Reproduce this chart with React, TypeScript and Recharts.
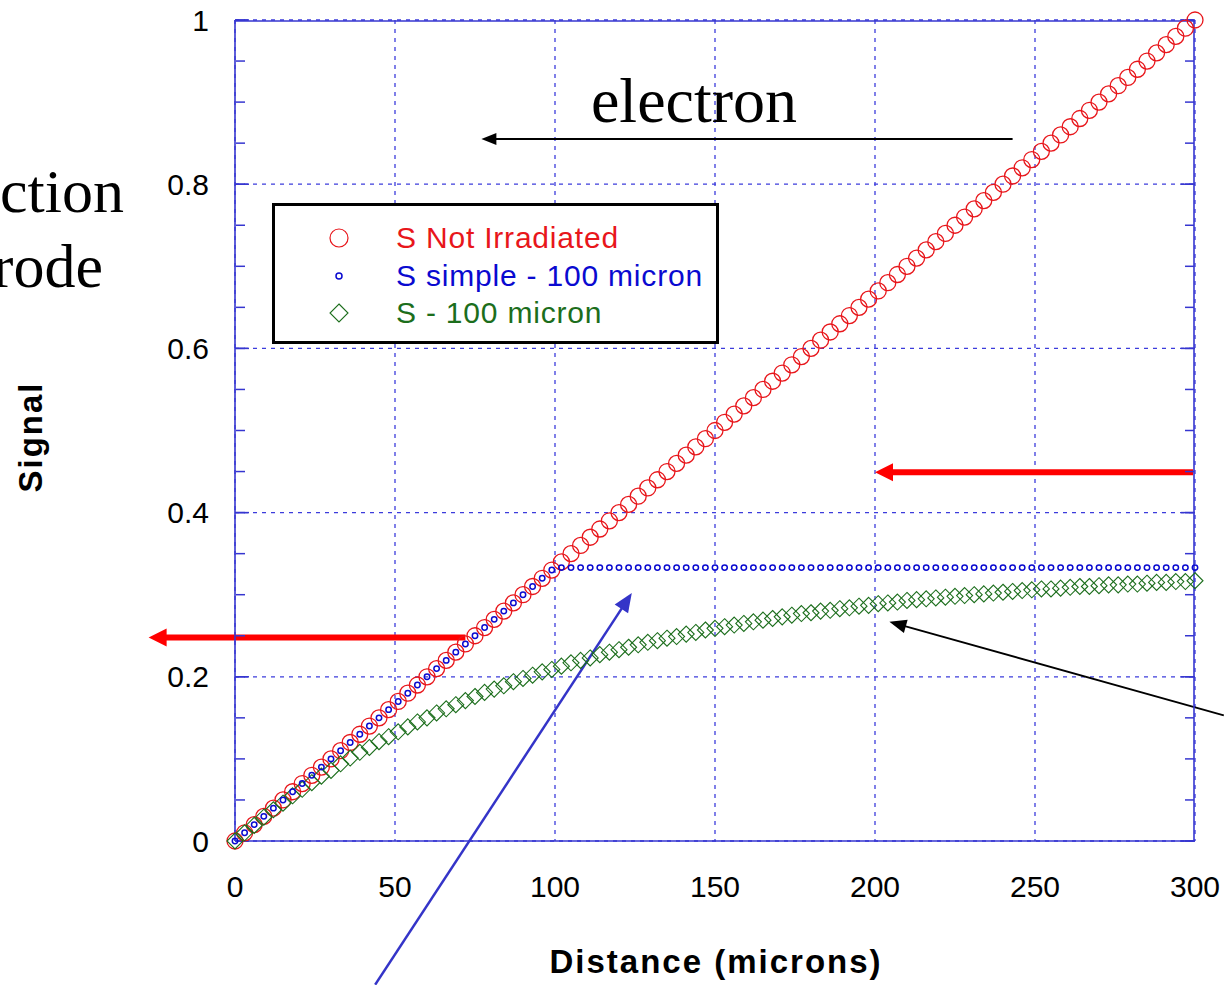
import React from 'react';
import {
  ScatterChart,
  Scatter,
  XAxis,
  YAxis,
  CartesianGrid,
  ReferenceLine,
  Legend,
} from 'recharts';

// distance in microns, one point every 3 microns
const distance = [
  0, 3, 6, 9, 12, 15, 18, 21, 24, 27,
  30, 33, 36, 39, 42, 45, 48, 51, 54, 57,
  60, 63, 66, 69, 72, 75, 78, 81, 84, 87,
  90, 93, 96, 99, 102, 105, 108, 111, 114, 117,
  120, 123, 126, 129, 132, 135, 138, 141, 144, 147,
  150, 153, 156, 159, 162, 165, 168, 171, 174, 177,
  180, 183, 186, 189, 192, 195, 198, 201, 204, 207,
  210, 213, 216, 219, 222, 225, 228, 231, 234, 237,
  240, 243, 246, 249, 252, 255, 258, 261, 264, 267,
  270, 273, 276, 279, 282, 285, 288, 291, 294, 297,
  300,
];

const notIrradiated = [
  0, 0.01, 0.02, 0.03, 0.04, 0.05, 0.06, 0.07, 0.08, 0.09,
  0.1, 0.11, 0.12, 0.13, 0.14, 0.15, 0.16, 0.17, 0.18, 0.19,
  0.2, 0.21, 0.22, 0.23, 0.24, 0.25, 0.26, 0.27, 0.28, 0.29,
  0.3, 0.31, 0.32, 0.33, 0.34, 0.35, 0.36, 0.37, 0.38, 0.39,
  0.4, 0.41, 0.42, 0.43, 0.44, 0.45, 0.46, 0.47, 0.48, 0.49,
  0.5, 0.51, 0.52, 0.53, 0.54, 0.55, 0.56, 0.57, 0.58, 0.59,
  0.6, 0.61, 0.62, 0.63, 0.64, 0.65, 0.66, 0.67, 0.68, 0.69,
  0.7, 0.71, 0.72, 0.73, 0.74, 0.75, 0.76, 0.77, 0.78, 0.79,
  0.8, 0.81, 0.82, 0.83, 0.84, 0.85, 0.86, 0.87, 0.88, 0.89,
  0.9, 0.91, 0.92, 0.93, 0.94, 0.95, 0.96, 0.97, 0.98, 0.99,
  1.0,
];

const simple100 = [
  0, 0.01, 0.02, 0.03, 0.04, 0.05, 0.06, 0.07, 0.08, 0.09,
  0.1, 0.11, 0.12, 0.13, 0.14, 0.15, 0.16, 0.17, 0.18, 0.19,
  0.2, 0.21, 0.22, 0.23, 0.24, 0.25, 0.26, 0.27, 0.28, 0.29,
  0.3, 0.31, 0.32, 0.33, 0.333, 0.333, 0.333, 0.333, 0.333, 0.333,
  0.333, 0.333, 0.333, 0.333, 0.333, 0.333, 0.333, 0.333, 0.333, 0.333,
  0.333, 0.333, 0.333, 0.333, 0.333, 0.333, 0.333, 0.333, 0.333, 0.333,
  0.333, 0.333, 0.333, 0.333, 0.333, 0.333, 0.333, 0.333, 0.333, 0.333,
  0.333, 0.333, 0.333, 0.333, 0.333, 0.333, 0.333, 0.333, 0.333, 0.333,
  0.333, 0.333, 0.333, 0.333, 0.333, 0.333, 0.333, 0.333, 0.333, 0.333,
  0.333, 0.333, 0.333, 0.333, 0.333, 0.333, 0.333, 0.333, 0.333, 0.333,
  0.333,
];

const s100 = [
  0, 0.01, 0.019, 0.029, 0.038, 0.046, 0.055, 0.063, 0.071, 0.079,
  0.086, 0.094, 0.101, 0.108, 0.114, 0.121, 0.127, 0.133, 0.139, 0.145,
  0.15, 0.156, 0.161, 0.166, 0.171, 0.176, 0.181, 0.185, 0.189, 0.194,
  0.198, 0.202, 0.206, 0.209, 0.213, 0.217, 0.22, 0.223, 0.227, 0.23,
  0.233, 0.236, 0.239, 0.242, 0.244, 0.247, 0.249, 0.252, 0.254, 0.257,
  0.259, 0.261, 0.263, 0.265, 0.267, 0.269, 0.271, 0.273, 0.275, 0.277,
  0.278, 0.28, 0.281, 0.283, 0.284, 0.286, 0.287, 0.289, 0.29, 0.291,
  0.293, 0.294, 0.295, 0.296, 0.297, 0.298, 0.299, 0.3, 0.301, 0.302,
  0.303, 0.304, 0.305, 0.306, 0.307, 0.307, 0.308, 0.309, 0.31, 0.31,
  0.311, 0.312, 0.312, 0.313, 0.313, 0.314, 0.315, 0.315, 0.316, 0.316,
  0.317,
];

const xMajor = [0, 50, 100, 150, 200, 250, 300];
const xMinor = [
  0, 10, 20, 30, 40, 50, 60, 70, 80, 90, 100, 110, 120, 130, 140, 150,
  160, 170, 180, 190, 200, 210, 220, 230, 240, 250, 260, 270, 280, 290, 300,
];
const yMajor = [0, 0.2, 0.4, 0.6, 0.8, 1];
const yMinor = [
  0, 0.05, 0.1, 0.15, 0.2, 0.25, 0.3, 0.35, 0.4, 0.45, 0.5,
  0.55, 0.6, 0.65, 0.7, 0.75, 0.8, 0.85, 0.9, 0.95, 1,
];

const FRAME = '#3636d0';
const GRID = '#3c3cdc';
const RED = '#e8161b';
const BLUE = '#0a0ad0';
const GREEN = '#1c6e1c';
const SANS = '"Liberation Sans", Arial, sans-serif';
const SERIF = '"Liberation Serif", "Times New Roman", serif';

const redData = distance.map((x, i) => ({ x, y: notIrradiated[i] }));
const blueData = distance.map((x, i) => ({ x, y: simple100[i] }));
const greenData = distance.map((x, i) => ({ x, y: s100[i] }));

const RedCircle = (p: any) => (
  <circle cx={p.cx} cy={p.cy} r={8} fill="none" stroke={RED} strokeWidth={1.3} />
);
const BlueDot = (p: any) => (
  <circle cx={p.cx} cy={p.cy} r={2.7} fill="none" stroke={BLUE} strokeWidth={1.5} />
);
const GreenDiamond = (p: any) => {
  const h = 8;
  return (
    <polygon
      points={`${p.cx},${p.cy - h} ${p.cx + h},${p.cy} ${p.cx},${p.cy + h} ${p.cx - h},${p.cy}`}
      fill="none"
      stroke={GREEN}
      strokeWidth={1.1}
    />
  );
};

// no label text on the frame tick axes, only tick marks
const noLabel = () => <g />;

// arrow drawn from (x1,y1) to the tip at (x2,y2)
const arrow = (color: string, width: number, headLen: number, headHalf: number) => (p: any) => {
  const { x1, y1, x2, y2 } = p;
  const dx = x2 - x1;
  const dy = y2 - y1;
  const len = Math.hypot(dx, dy) || 1;
  const ux = dx / len;
  const uy = dy / len;
  const bx = x2 - ux * headLen;
  const by = y2 - uy * headLen;
  const px = -uy * headHalf;
  const py = ux * headHalf;
  return (
    <g>
      <line x1={x1} y1={y1} x2={bx + ux} y2={by + uy} stroke={color} strokeWidth={width} />
      <polygon points={`${x2},${y2} ${bx + px},${by + py} ${bx - px},${by - py}`} fill={color} />
    </g>
  );
};

const legendRows = [
  { label: 'S Not Irradiated', color: RED, kind: 'big' },
  { label: 'S simple - 100 micron', color: BLUE, kind: 'small' },
  { label: 'S - 100 micron', color: GREEN, kind: 'diamond' },
];

const renderLegend = () => (
  <div
    style={{
      position: 'relative',
      width: 447,
      height: 141,
      boxSizing: 'border-box',
      border: '3px solid #000',
      background: '#fff',
      fontFamily: SANS,
    }}
  >
    {legendRows.map((r, i) => (
      <div key={r.label}>
        <svg
          width={24}
          height={24}
          style={{ position: 'absolute', left: 52, top: 32 + i * 37.5 - 12 }}
        >
          {r.kind === 'big' && <circle cx={12} cy={12} r={9} fill="none" stroke={r.color} strokeWidth={1.2} />}
          {r.kind === 'small' && <circle cx={12} cy={12} r={3} fill="none" stroke={r.color} strokeWidth={1.5} />}
          {r.kind === 'diamond' && (
            <polygon points="12,3 21,12 12,21 3,12" fill="none" stroke={r.color} strokeWidth={1.1} />
          )}
        </svg>
        <div
          style={{
            position: 'absolute',
            left: 121,
            top: 32 + i * 37.5 - 18,
            fontSize: 30,
            lineHeight: '36px',
            letterSpacing: 0.8,
            color: r.color,
            whiteSpace: 'nowrap',
          }}
        >
          {r.label}
        </div>
      </div>
    ))}
  </div>
);

export default function App() {
  const tickStroke = { stroke: FRAME, strokeWidth: 1.5 };
  const frameLine = { stroke: FRAME, strokeWidth: 1.6 };
  return (
    <div
      style={{
        position: 'absolute',
        left: 0,
        top: 0,
        width: 1224,
        height: 985,
        background: '#fff',
        overflow: 'hidden',
      }}
    >
      <ScatterChart width={1224} height={985} margin={{ top: 20, right: 29, bottom: 84, left: 155 }}>
        <CartesianGrid stroke={GRID} strokeDasharray="4 5" strokeWidth={1.3} />
        <XAxis
          type="number"
          dataKey="x"
          domain={[0, 300]}
          ticks={xMajor}
          interval={0}
          height={60}
          tickLine={false}
          tickSize={6}
          tickMargin={29}
          axisLine={frameLine}
          tick={{ fontSize: 30, fill: '#000', fontFamily: SANS }}
        />
        <XAxis xAxisId="bmin" type="number" domain={[0, 300]} allowDataOverflow ticks={xMinor} interval={0}
          orientation="bottom" mirror height={1} tick={noLabel} tickSize={9} axisLine={false}
          tickLine={tickStroke} />
        <XAxis xAxisId="bmaj" type="number" domain={[0, 300]} allowDataOverflow ticks={xMajor} interval={0}
          orientation="bottom" mirror height={1} tick={noLabel} tickSize={14} axisLine={false}
          tickLine={tickStroke} />
        <XAxis xAxisId="tmin" type="number" domain={[0, 300]} allowDataOverflow ticks={xMinor} interval={0}
          orientation="top" mirror height={1} tick={noLabel} tickSize={9}
          axisLine={frameLine} tickLine={tickStroke} />
        <XAxis xAxisId="tmaj" type="number" domain={[0, 300]} allowDataOverflow ticks={xMajor} interval={0}
          orientation="top" mirror height={1} tick={noLabel} tickSize={14} axisLine={false}
          tickLine={tickStroke} />
        <YAxis
          type="number"
          dataKey="y"
          domain={[0, 1]}
          ticks={yMajor}
          interval={0}
          width={80}
          tickLine={false}
          tickSize={6}
          tickMargin={20}
          axisLine={frameLine}
          tick={{ fontSize: 30, fill: '#000', fontFamily: SANS }}
        />
        <YAxis yAxisId="lmin" type="number" domain={[0, 1]} allowDataOverflow ticks={yMinor} interval={0}
          orientation="left" mirror width={1} tick={noLabel} tickSize={9} axisLine={false}
          tickLine={tickStroke} />
        <YAxis yAxisId="lmaj" type="number" domain={[0, 1]} allowDataOverflow ticks={yMajor} interval={0}
          orientation="left" mirror width={1} tick={noLabel} tickSize={14} axisLine={false}
          tickLine={tickStroke} />
        <YAxis yAxisId="rmin" type="number" domain={[0, 1]} allowDataOverflow ticks={yMinor} interval={0}
          orientation="right" mirror width={1} tick={noLabel} tickSize={9}
          axisLine={frameLine} tickLine={tickStroke} />
        <YAxis yAxisId="rmaj" type="number" domain={[0, 1]} allowDataOverflow ticks={yMajor} interval={0}
          orientation="right" mirror width={1} tick={noLabel} tickSize={14} axisLine={false}
          tickLine={tickStroke} />

        <Scatter name="S Not Irradiated" data={redData} shape={RedCircle} isAnimationActive={false} />
        <Scatter name="S - 100 micron" data={greenData} shape={GreenDiamond} isAnimationActive={false} />
        <Scatter name="S simple - 100 micron" data={blueData} shape={BlueDot} isAnimationActive={false} />

        <ReferenceLine ifOverflow="visible" segment={[{ x: 243, y: 0.855 }, { x: 77, y: 0.855 }]}
          shape={arrow('#000', 2, 15, 6)} />
        <ReferenceLine ifOverflow="visible" segment={[{ x: 299.4, y: 0.449 }, { x: 200, y: 0.449 }]}
          shape={arrow('#ff0000', 6, 18, 9)} />
        <ReferenceLine ifOverflow="visible" segment={[{ x: 72, y: 0.248 }, { x: -27, y: 0.248 }]}
          shape={arrow('#ff0000', 6, 18, 9)} />
        <ReferenceLine ifOverflow="visible" segment={[{ x: 309, y: 0.153 }, { x: 204.5, y: 0.267 }]}
          shape={arrow('#000', 2, 17, 7)} />
        <ReferenceLine ifOverflow="visible" segment={[{ x: 43.8, y: -0.175 }, { x: 124, y: 0.302 }]}
          shape={arrow('#3434c8', 2.5, 19, 8)} />

        <Legend
          layout="vertical"
          align="center"
          verticalAlign="middle"
          wrapperStyle={{ left: 272, top: 203, width: 447, height: 141 }}
          content={renderLegend}
        />
      </ScatterChart>

      <svg
        width={1224}
        height={985}
        style={{ position: 'absolute', left: 0, top: 0, pointerEvents: 'none' }}
      >
        <text x={124} y={212} textAnchor="end" fontFamily={SERIF} fontSize={62} fill="#000">ction</text>
        <text x={103} y={287} textAnchor="end" fontFamily={SERIF} fontSize={62} fill="#000">rode</text>
        <text x={694} y={122} textAnchor="middle" fontFamily={SERIF} fontSize={64} fill="#000">electron</text>
        <text
          x={0}
          y={0}
          transform="translate(42 437) rotate(-90)"
          textAnchor="middle"
          fontFamily={SANS}
          fontWeight="bold"
          fontSize={33}
          letterSpacing={2}
          fill="#000"
        >
          Signal
        </text>
        <text
          x={716}
          y={973}
          textAnchor="middle"
          fontFamily={SANS}
          fontWeight="bold"
          fontSize={33}
          letterSpacing={2}
          fill="#000"
        >
          Distance (microns)
        </text>
      </svg>
    </div>
  );
}
